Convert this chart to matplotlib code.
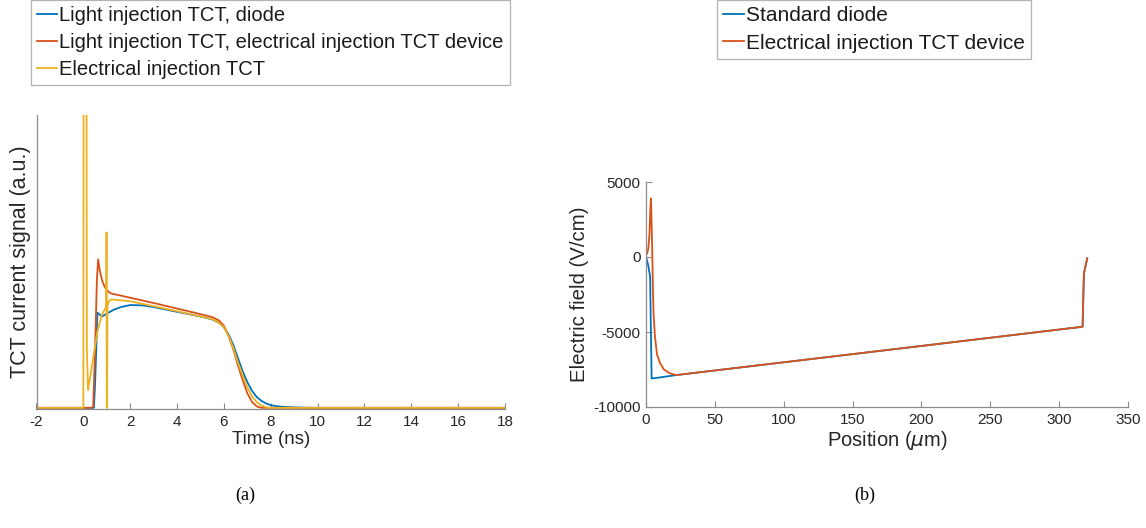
import matplotlib
matplotlib.use("Agg")
import matplotlib.pyplot as plt

plt.rcParams['font.family'] = ['Liberation Sans', 'DejaVu Sans']
plt.rcParams['axes.unicode_minus'] = False

BLUE = '#0072BD'
RED = '#D95319'
YEL = '#EDB120'

# (a) TCT current signals, arbitrary units
t_diode = [-2, 0.45, 0.5, 0.55, 0.6, 0.7, 0.8, 1.0, 1.3, 1.6, 2.0, 2.5, 3.0, 3.5, 4.0,
           4.5, 5.0, 5.5, 5.8, 6.0, 6.2, 6.4, 6.6, 6.8, 7.0, 7.2, 7.4, 7.6, 7.8, 8.0,
           8.3, 8.6, 9.0, 9.5, 10, 18]
i_diode = [0, 0, 0.08, 0.2, 0.325, 0.318, 0.312, 0.322, 0.335, 0.344, 0.351, 0.35, 0.344,
           0.336, 0.328, 0.32, 0.312, 0.302, 0.29, 0.275, 0.25, 0.215, 0.17, 0.125, 0.088,
           0.058, 0.037, 0.024, 0.015, 0.009, 0.005, 0.003, 0.0015, 0.0005, 0, 0]

t_light_eitct = [-2, 0.35, 0.42, 0.5, 0.58, 0.63, 0.7, 0.8, 0.9, 1.0, 1.1, 1.2, 1.5, 2.0,
                 3.0, 4.0, 5.0, 5.5, 5.8, 6.0, 6.2, 6.4, 6.6, 6.8, 7.0, 7.2, 7.4, 7.6, 18]
i_light_eitct = [0, 0, 0.005, 0.2, 0.44, 0.507, 0.47, 0.435, 0.415, 0.402, 0.395, 0.39,
                 0.385, 0.376, 0.358, 0.339, 0.32, 0.31, 0.298, 0.28, 0.245, 0.2, 0.145,
                 0.095, 0.05, 0.02, 0.005, 0, 0]

t_eitct = [-2, 0.0, 0.02, 0.1, 0.12, 0.15, 0.2, 0.4, 0.6, 0.8, 0.98, 0.99, 1.0, 1.01, 1.03,
           1.1, 1.2, 1.5, 2.0, 3.0, 4.0, 5.0, 5.5, 5.8, 6.0, 6.2, 6.4, 6.6, 6.8, 7.0, 7.2,
           7.4, 7.6, 7.8, 8.0, 18]
i_eitct = [0, 0, 2.0, 2.0, 2.0, 0.2, 0.06, 0.16, 0.26, 0.32, 0.345, 0.599, 0.0, 0.0, 0.35,
           0.365, 0.37, 0.368, 0.364, 0.347, 0.33, 0.312, 0.303, 0.29, 0.275, 0.245, 0.205,
           0.155, 0.11, 0.07, 0.04, 0.02, 0.008, 0.002, 0, 0]

# (b) electric field profiles
x_std = [0, 1.5, 3.0, 3.4, 4.1, 10, 22, 100, 200, 317, 318, 320.4]
e_std = [0, -500, -1300, -4000, -8100, -8030, -7870, -7020, -5930, -4650, -1090, -90]

x_eitct = [0, 1.0, 1.7, 2.5, 3.2, 3.6, 4.0, 4.5, 5.0, 5.5, 6.5, 8, 10.2, 13, 17.4, 22,
           100, 200, 317, 318, 320.4]
e_eitct = [100, 300, 600, 1500, 3300, 3910, 2500, 500, -2000, -3800, -5300, -6500, -7070,
           -7500, -7760, -7870, -7020, -5930, -4650, -1090, -90]

fig = plt.figure(figsize=(11.46, 5.28), dpi=100)
W, H = 1146, 528

def style(ax):
    for s in ['top', 'right']:
        ax.spines[s].set_visible(False)
    for s in ['left', 'bottom']:
        ax.spines[s].set_color('#8c8c8c')
        ax.spines[s].set_linewidth(0.9)
    ax.tick_params(direction='in', length=4, width=0.8, color='#8c8c8c',
                   labelsize=11, labelcolor='#262626', pad=4)

ax1 = fig.add_axes([36.5 / W, (H - 409) / H, 468.5 / W, 294 / H])
l1, = ax1.plot(t_diode, i_diode, color=BLUE, lw=1.3)
l2, = ax1.plot(t_light_eitct, i_light_eitct, color=RED, lw=1.3)
l3, = ax1.plot(t_eitct, i_eitct, color=YEL, lw=1.3)
ax1.set_xlim(-2, 18)
ax1.set_ylim(-0.004, 1)
ax1.set_xticks(range(-2, 19, 2))
ax1.set_yticks([])
style(ax1)
ax1.set_xlabel('Time (ns)', fontsize=13.5, color='#262626', labelpad=2)
ax1.set_ylabel('TCT current signal (a.u.)', fontsize=15.5, color='#262626', labelpad=4)

ax2 = fig.add_axes([646 / W, (H - 407) / H, 482 / W, 225 / H])
m1, = ax2.plot(x_std, e_std, color=BLUE, lw=1.3)
m2, = ax2.plot(x_eitct, e_eitct, color=RED, lw=1.3)
ax2.set_xlim(0, 350)
ax2.set_ylim(-10000, 5000)
ax2.set_xticks(range(0, 351, 50))
ax2.set_yticks([-10000, -5000, 0, 5000])
style(ax2)
ax2.set_xlabel(r'Position ($\mu$m)', fontsize=14.5, color='#262626', labelpad=2)
ax2.set_ylabel('Electric field (V/cm)', fontsize=14.7, color='#262626', labelpad=3)

leg_kw = dict(loc='upper left', frameon=True, fancybox=False,
              handlelength=1.0, handletextpad=0.1, borderpad=0.3, labelspacing=0.4,
              borderaxespad=0)
lg1 = fig.legend([l1, l2, l3],
                 ['Light injection TCT, diode',
                  'Light injection TCT, electrical injection TCT device',
                  'Electrical injection TCT'],
                 bbox_to_anchor=(31 / W, 1.0), fontsize=14.5, **leg_kw)
lg2 = fig.legend([m1, m2], ['Standard diode', 'Electrical injection TCT device'],
                 bbox_to_anchor=(717 / W, 1.0), fontsize=15, **leg_kw)
for lg in (lg1, lg2):
    lg.get_frame().set_edgecolor('#a0a0a0')
    lg.get_frame().set_linewidth(0.9)
    for txt in lg.get_texts():
        txt.set_color('#1a1a1a')

fig.text(245 / W, 1 - 495 / H, '(a)', family='Liberation Serif', fontsize=13,
         ha='center', va='center')
fig.text(865 / W, 1 - 495 / H, '(b)', family='Liberation Serif', fontsize=13,
         ha='center', va='center')

fig.savefig('out.png', dpi=100)
